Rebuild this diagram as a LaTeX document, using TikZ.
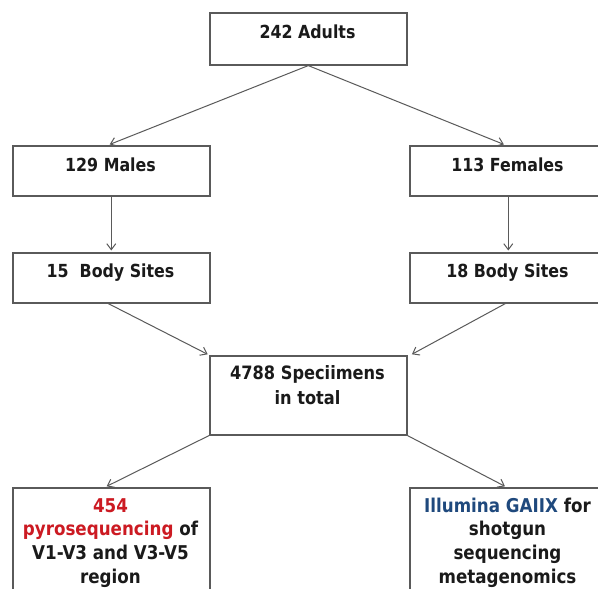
\documentclass[tikz,border=0pt]{standalone}
\usepackage{fontspec}
\newfontfamily\boxfont{DejaVu Sans}[FakeStretch=0.88]
\usetikzlibrary{arrows.meta}
\definecolor{boxgray}{HTML}{5A5A5A}
\definecolor{arrgray}{HTML}{5A5A5A}
\definecolor{txt}{HTML}{1A1A1A}
\definecolor{pyrored}{HTML}{CC1A22}
\definecolor{illblue}{HTML}{1F497D}
\begin{document}
\begin{tikzpicture}[x=1pt,y=-1pt,
  box/.style={draw=boxgray, line width=1.6pt, minimum width=197pt, inner sep=0pt, anchor=north west},
  lbl/.style={font=\boxfont\bfseries\fontsize{18}{20.5}\selectfont, align=center, anchor=base, text=txt, inner sep=0pt},
  big/.style={font=\boxfont\bfseries\fontsize{19}{23.8}\selectfont},
  arr/.style={draw=arrgray, line width=1pt, -{Straight Barb[length=6pt,width=9pt]}, shorten >=1.5pt}]
\clip (0,0) rectangle (598,589);
\fill[white] (0,0) rectangle (598,589);
% boxes
\node[box, minimum height=52pt] (adults) at (209,12) {};
\node[box, minimum height=50pt] (males) at (12,145) {};
\node[box, minimum height=50pt] (females) at (409,145) {};
\node[box, minimum height=50pt] (sitesm) at (12,252) {};
\node[box, minimum height=50pt] (sitesf) at (409,252) {};
\node[box, minimum height=79pt] (total) at (209,355) {};
\node[box, minimum height=130pt] (pyro) at (12,487) {};
\node[box, minimum height=130pt] (illum) at (409,487) {};
% texts (anchor base = baseline of last line)
\node[lbl] (tA) at (307.5,38) {242 Adults};
\node[lbl] (tM) at (110.5,171) {129 Males};
\node[lbl] (tF) at (507.5,171) {113 Females};
\node[lbl] (tSM) at (110.5,277) {15\ \ Body Sites};
\node[lbl] (tSF) at (507.5,277) {18 Body Sites};
\node[lbl, font=\boxfont\bfseries\fontsize{18.4}{25}\selectfont] (tT) at (307.5,404) {4788 Speciimens\\in total};
\node[lbl, big] (tP) at (110.5,583.5) {\textcolor{pyrored}{454}\\\textcolor{pyrored}{pyrosequencing} of\\V1-V3 and V3-V5\\region};
\node[lbl, big] (tI) at (507.5,583.5) {\textcolor{illblue}{Illumina GAIIX} for\\shotgun\\sequencing\\metagenomics};
% connectors
\draw[arr] (adults.south) -- ([xshift=-3pt]males.north);
\draw[arr] (adults.south) -- ([xshift=-3pt]females.north);
\draw[arr] (males.south) -- (sitesm.north);
\draw[arr] (females.south) -- (sitesf.north);
\draw[arr] ([xshift=-3pt]sitesm.south) -- (total.north west);
\draw[arr] ([xshift=-3pt]sitesf.south) -- ([xshift=3pt]total.north east);
\draw[arr] (total.south west) -- ([xshift=-6pt]pyro.north);
\draw[arr] (total.south east) -- ([xshift=-2pt]illum.north);
\end{tikzpicture}
\end{document}
